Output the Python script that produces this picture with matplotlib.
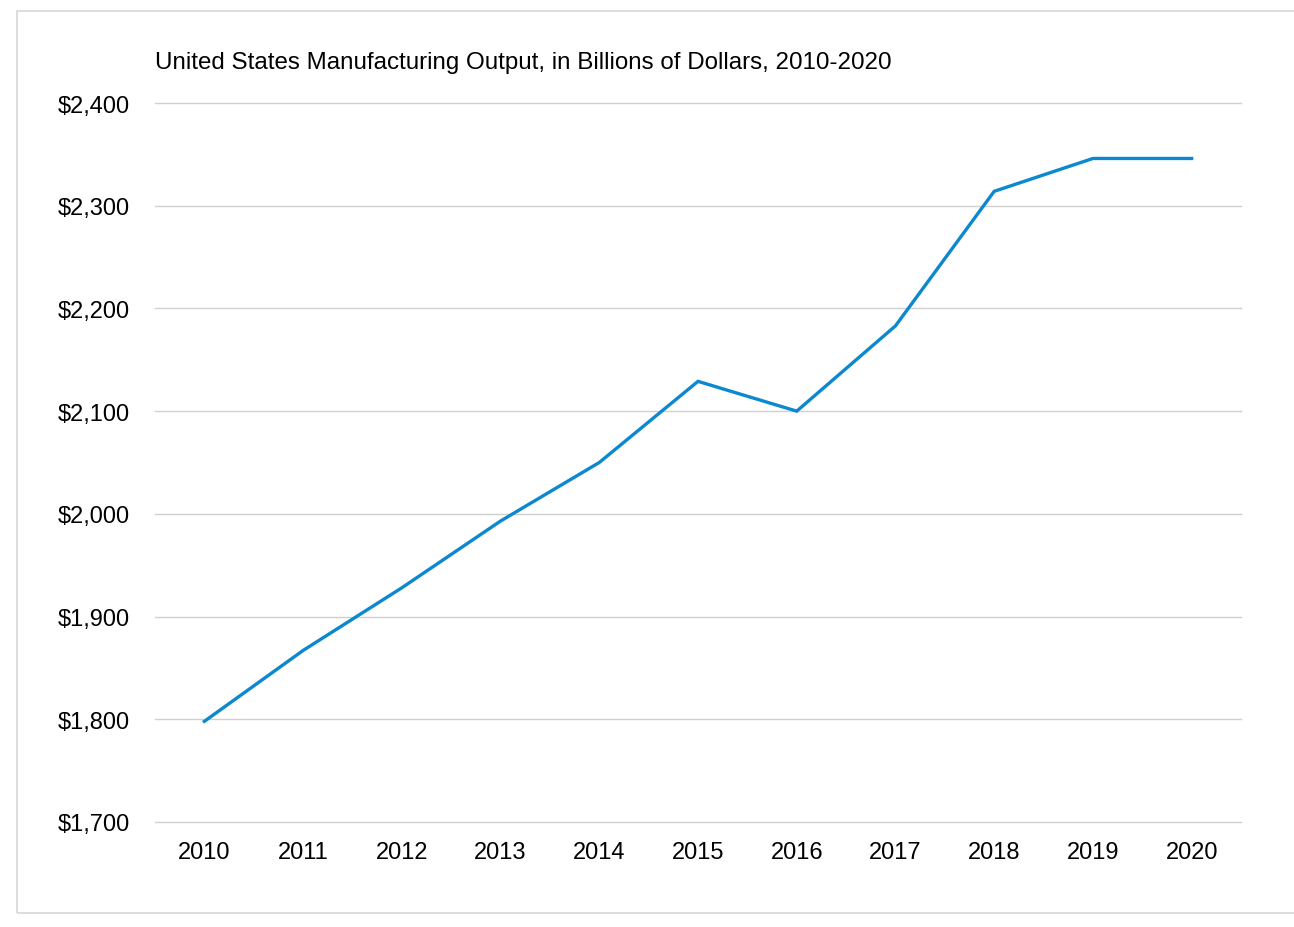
import matplotlib
matplotlib.use("Agg")
import matplotlib.pyplot as plt
import matplotlib.ticker as mticker
from matplotlib.patches import Rectangle

years = ["2010", "2011", "2012", "2013", "2014", "2015",
         "2016", "2017", "2018", "2019", "2020"]
output = [1798, 1867, 1928, 1993, 2050, 2129, 2100, 2183, 2314, 2346, 2346]
y_ticks = [1700, 1800, 1900, 2000, 2100, 2200, 2300, 2400]

plt.rcParams["font.family"] = ["Liberation Sans", "DejaVu Sans"]

W, H = 1294, 928
fig = plt.figure(figsize=(W / 100, H / 100), dpi=100)
ax = fig.add_axes([155 / W, 1 - 823 / H, (1241 - 155) / W, (823 - 104) / H])

# light frame around the chart
fig.patches.append(Rectangle((17 / W, 1 - 914 / H), 1.5, (914 - 12) / H,
                             transform=fig.transFigure, fill=False,
                             edgecolor="#d4d7dc", linewidth=1.2))

x = list(range(len(years)))
ax.plot(x, output, color="#0b88cf", linewidth=2.4, solid_joinstyle="miter")

ax.set_xlim(-0.5, len(years) - 0.5)
ax.set_ylim(1700, 2400)
ax.set_xticks(x)
ax.set_xticklabels(years)
ax.set_yticks(y_ticks)
ax.yaxis.set_major_formatter(mticker.FuncFormatter(lambda v, _: f"${v:,.0f}"))

ax.grid(axis="y", color="#d0d0d0", linewidth=1.0)
for gl in ax.get_ygridlines():
    gl.set_clip_on(False)
ax.set_axisbelow(True)
for s in ax.spines.values():
    s.set_visible(False)
ax.tick_params(axis="both", length=0, labelsize=17, colors="black")
ax.tick_params(axis="y", pad=18)
ax.tick_params(axis="x", pad=14)

ax.set_title("United States Manufacturing Output, in Billions of Dollars, 2010-2020",
             loc="left", fontsize=17.4, pad=25)

fig.savefig("out.png", dpi=100)
